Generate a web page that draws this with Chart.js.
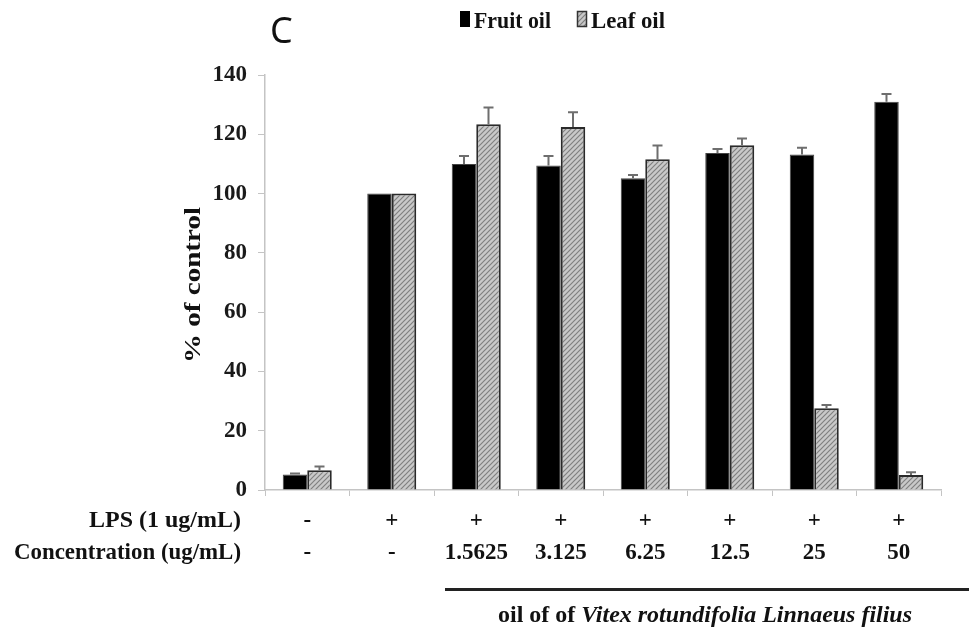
<!DOCTYPE html>
<html>
<head>
<meta charset="utf-8">
<script src="https://cdn.jsdelivr.net/npm/chart.js@4.4.0/dist/chart.umd.min.js"></script>
<style>
  html, body { margin: 0; padding: 0; background: #fff; }
  #wrap { width: 969px; height: 631px; }
</style>
</head>
<body>
<div id="wrap"><canvas id="oilChart" width="969" height="631"></canvas></div>
<script>
// Chart values
const categories = ['ctrl', 'LPS', '1.5625', '3.125', '6.25', '12.5', '25', '50'];
const lpsRow = ['-', '+', '+', '+', '+', '+', '+', '+'];
const concRow = ['-', '-', '1.5625', '3.125', '6.25', '12.5', '25', '50'];
const fruitOil = [5.2, 100, 110.0, 109.5, 105.2, 113.7, 113.2, 131.0];
const fruitErr = [0.4, 0, 2.7, 3.2, 1.1, 1.3, 2.3, 2.6];
const leafOil = [6.7, 100, 123.4, 122.5, 111.6, 116.3, 27.6, 5.1];
const leafErr = [1.2, 0, 5.6, 4.9, 4.6, 2.3, 1.1, 0.9];
const yTicks = [0, 20, 40, 60, 80, 100, 120, 140];

const serif = '"Liberation Serif", "Times New Roman", serif';

// hatched fill for the leaf oil bars
function makeHatch() {
    const c = document.createElement('canvas');
    c.width = 5; c.height = 5;
    const g = c.getContext('2d');
    g.fillStyle = '#c9c9c9';
    g.fillRect(0, 0, 5, 5);
    g.strokeStyle = '#808080';
    g.lineWidth = 1.2;
    g.beginPath();
    g.moveTo(0, 5); g.lineTo(5, 0);
    g.moveTo(-2.5, 2.5); g.lineTo(2.5, -2.5);
    g.moveTo(2.5, 7.5); g.lineTo(7.5, 2.5);
    g.stroke();
    return g.createPattern(c, 'repeat');
}
const hatch = makeHatch();

// squeeze/stretch text to a target width
function fitText(ctx, text, x, y, width, align) {
    const w = ctx.measureText(text).width;
    const sx = width / w;
    ctx.save();
    ctx.translate(x, y);
    ctx.scale(sx, 1);
    ctx.textAlign = align || 'left';
    ctx.fillText(text, 0, 0);
    ctx.restore();
}

// error bars, legend, row labels and the rest of the annotations
const extrasPlugin = {
    id: 'extras',
    afterDatasetsDraw(chart) {
        const ctx = chart.ctx;
        const yScale = chart.scales.y;
        const errs = [fruitErr, leafErr];
        ctx.save();
        ctx.strokeStyle = '#6e6e6e';
        ctx.lineWidth = 2;
        chart.data.datasets.forEach((ds, di) => {
            const meta = chart.getDatasetMeta(di);
            meta.data.forEach((bar, i) => {
                const e = errs[di][i];
                if (!e) return;
                const yTop = yScale.getPixelForValue(ds.data[i] + e);
                ctx.beginPath();
                ctx.moveTo(bar.x, bar.y);
                ctx.lineTo(bar.x, yTop);
                ctx.moveTo(bar.x - 5, yTop);
                ctx.lineTo(bar.x + 5, yTop);
                ctx.stroke();
            });
        });
        ctx.restore();
    },
    afterDraw(chart) {
        const ctx = chart.ctx;
        const xScale = chart.scales.x;
        ctx.save();
        ctx.fillStyle = '#111';

        // panel letter
        ctx.font = '36px "Noto Sans", sans-serif';
        ctx.textBaseline = 'middle';
        ctx.textAlign = 'left';
        ctx.fillText('C', 270, 33);

        // legend
        ctx.fillStyle = '#000';
        ctx.fillRect(460, 11, 10, 16);
        ctx.fillStyle = hatch;
        ctx.fillRect(577, 11, 10, 16);
        ctx.strokeStyle = '#333';
        ctx.lineWidth = 1.5;
        ctx.strokeRect(577.5, 11.5, 9, 15);
        ctx.fillStyle = '#111';
        ctx.font = 'bold 24px ' + serif;
        ctx.textBaseline = 'alphabetic';
        fitText(ctx, 'Fruit oil', 474, 28, 77);
        fitText(ctx, 'Leaf oil', 591, 28, 74);

        // y axis title
        ctx.save();
        ctx.translate(200, 285);
        ctx.rotate(-Math.PI / 2);
        ctx.font = 'bold 23px ' + serif;
        fitText(ctx, '% of control', 0, 0, 156, 'center');
        ctx.restore();

        // row labels under the axis
        ctx.font = 'bold 23px ' + serif;
        ctx.textBaseline = 'middle';
        fitText(ctx, 'LPS (1 ug/mL)', 241, 521, 152, 'right');
        fitText(ctx, 'Concentration (ug/mL)', 241, 553, 227, 'right');
        ctx.textAlign = 'center';
        categories.forEach((c, i) => {
            const x = xScale.getPixelForValue(i);
            ctx.fillText(lpsRow[i], x, 521);
            ctx.fillText(concRow[i], x, 553);
        });

        // bracket line and species name
        ctx.fillStyle = '#222';
        ctx.fillRect(445, 588, 524, 3);
        ctx.fillStyle = '#111';
        ctx.textAlign = 'left';
        ctx.textBaseline = 'alphabetic';
        const part1 = 'oil of of ';
        const part2 = 'Vitex rotundifolia Linnaeus filius';
        ctx.font = 'bold 23px ' + serif;
        const w1 = ctx.measureText(part1).width;
        ctx.font = 'italic bold 23px ' + serif;
        const w2 = ctx.measureText(part2).width;
        const sx = 414 / (w1 + w2);
        ctx.save();
        ctx.translate(498, 622);
        ctx.scale(sx, 1);
        ctx.font = 'bold 23px ' + serif;
        ctx.fillText(part1, 0, 0);
        ctx.font = 'italic bold 23px ' + serif;
        ctx.fillText(part2, w1, 0);
        ctx.restore();

        ctx.restore();
    }
};

const ctx = document.getElementById('oilChart').getContext('2d');
const oilChart = new Chart(ctx, {
    type: 'bar',
    data: {
        labels: categories,
        datasets: [
            {
                label: 'Fruit oil',
                data: fruitOil,
                backgroundColor: '#000',
                borderColor: '#444',
                borderWidth: 1,
                barPercentage: 1.0,
                categoryPercentage: 0.58
            },
            {
                label: 'Leaf oil',
                data: leafOil,
                backgroundColor: hatch,
                borderColor: '#2a2a2a',
                borderWidth: 2,
                borderDash: [2, 1],
                barPercentage: 1.0,
                categoryPercentage: 0.58
            }
        ]
    },
    options: {
        responsive: false,
        animation: false,
        devicePixelRatio: 1,
        layout: { padding: { top: 75, right: 28, bottom: 0, left: 0 } },
        plugins: {
            legend: { display: false },
            tooltip: { enabled: false }
        },
        scales: {
            x: {
                grid: { display: true, drawOnChartArea: false, offset: true, tickLength: 6, color: '#c4c4c4' },
                border: { color: '#c4c4c4', width: 1.5 },
                ticks: { display: false },
                afterFit: (s) => { s.height = 141; }
            },
            y: {
                min: 0,
                max: 140,
                afterBuildTicks: (s) => { s.ticks = yTicks.map(v => ({ value: v })); },
                grid: { display: true, drawOnChartArea: false, tickLength: 7, color: '#c4c4c4' },
                border: { color: '#c4c4c4', width: 1.5 },
                ticks: {
                    color: '#1a1a1a',
                    padding: 11,
                    font: { family: serif, size: 23, weight: 'bold' }
                },
                afterFit: (s) => { s.width = 265; }
            }
        }
    },
    plugins: [extrasPlugin]
});
</script>
</body>
</html>
